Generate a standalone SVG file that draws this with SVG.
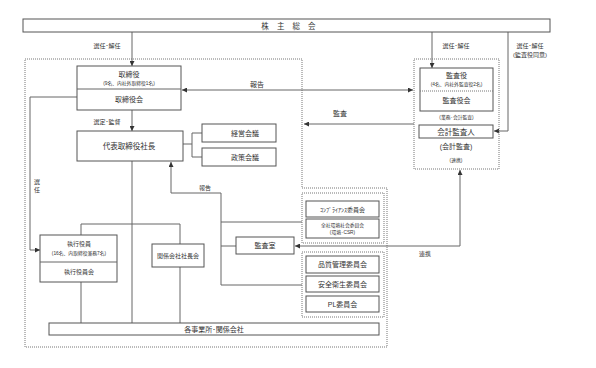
<svg xmlns="http://www.w3.org/2000/svg" width="596" height="368" viewBox="0 0 596 368">
<style>
text{font-family:"Liberation Sans","Noto Sans CJK JP",sans-serif;fill:#333;text-anchor:middle}
.box{fill:#fff;stroke:#555;stroke-width:1}
.grp{fill:none;stroke:#777;stroke-width:1;stroke-dasharray:1 1}
.ln{fill:none;stroke:#666;stroke-width:1}
.t7{font-size:7px}
.t75{font-size:7.5px}
.t6{font-size:6px}
.t5{font-size:4.8px}
</style>
<defs>
<marker id="ah" viewBox="0 0 5 5" refX="5" refY="2.5" markerWidth="5" markerHeight="5" markerUnits="userSpaceOnUse" orient="auto-start-reverse">
<path d="M0,0 L5,2.5 L0,5 z" fill="#333"/>
</marker>
</defs>
<rect width="596" height="368" fill="#fff"/>

<g id="outer-boundary">
<path class="grp" d="M25,59 H302 V188 H387 V347 H25 Z"/>
</g>

<g id="connectors">
<path class="ln" d="M132,32 V66" marker-end="url(#ah)"/>
<path class="ln" d="M432,32 V68" marker-end="url(#ah)"/>
<path class="ln" d="M508,32 V131 H494" marker-end="url(#ah)"/>
<path class="ln" d="M182,90 H413" marker-start="url(#ah)" marker-end="url(#ah)"/>
<path class="ln" d="M414,124 H304" marker-end="url(#ah)"/>
<path class="ln" d="M132,110 V131" marker-end="url(#ah)"/>
<path class="ln" d="M183,144 H192 M192,133 V157 M192,133 H202 M192,157 H202"/>
<path class="ln" d="M171,193 V162" marker-end="url(#ah)"/>
<path class="ln" d="M171,193 H221 V285 H302 M221,222 H302 M221,246 H236"/>
<path class="ln" d="M77,97 H30 V250 H40" marker-end="url(#ah)"/>
<path class="ln" d="M132,161 V323 M81,224 H180 M81,224 V235 M180,224 V244 M81,282 V323 M180,267 V323"/>
<path class="ln" d="M295,246 H460 V170" marker-start="url(#ah)" marker-end="url(#ah)"/>
<text class="t6" x="107" y="48">選任･解任</text>
<text class="t6" x="456" y="48">選任･解任</text>
<text class="t6" x="530" y="48">選任･解任</text>
<text class="t6" x="530" y="57">(監査役同意)</text>
<text class="t7" x="257" y="87">報告</text>
<text class="t7" x="340" y="116">監査</text>
<text class="t6" x="107" y="124">選定･監督</text>
<text class="t6" x="205" y="190">報告</text>
<text class="t6"><tspan x="37" y="184">選</tspan><tspan x="37" y="192">任</tspan></text>
<text class="t6" x="425" y="256">連携</text>
</g>

<g id="shareholders">
<rect class="box" x="23" y="19" width="527" height="13"/>
<text class="t75" x="290" y="28.5" letter-spacing="3">株 主 総 会</text>
</g>

<g id="board">
<rect class="box" x="77" y="66" width="104" height="44"/>
<line class="ln" x1="77" y1="89" x2="181" y2="89" stroke="#888"/>
<text class="t7" x="129" y="77">取締役</text>
<text class="t5" x="129" y="85">(9名、内社外取締役1名)</text>
<text class="t7" x="129" y="102">取締役会</text>
</g>

<g id="president">
<rect class="box" x="77" y="131" width="106" height="30"/>
<text class="t75" x="129" y="149">代表取締役社長</text>
</g>

<g id="management-meeting">
<rect class="box" x="202" y="124" width="74" height="18"/>
<text class="t7" x="245" y="135.5">経営会議</text>
</g>

<g id="policy-meeting">
<rect class="box" x="202" y="148" width="74" height="18"/>
<text class="t7" x="245" y="159.5">政策会議</text>
</g>

<g id="executive-officers">
<rect class="box" x="40" y="235" width="77" height="47"/>
<line class="ln" x1="40" y1="262" x2="117" y2="262"/>
<text class="t6" x="79" y="246">執行役員</text>
<text class="t5" x="79" y="255">(16名、内取締役兼務7名)</text>
<text class="t6" x="79" y="274">執行役員会</text>
</g>

<g id="affiliates-presidents">
<rect class="box" x="152" y="244" width="52" height="23"/>
<text class="t6" x="178" y="258">関係会社社長会</text>
</g>

<g id="audit-office">
<rect class="box" x="236" y="237" width="58" height="17"/>
<text class="t7" x="265" y="248">監査室</text>
</g>

<g id="compliance-group">
<rect class="grp" x="302" y="193" width="82" height="50"/>
<rect class="box" x="306" y="201" width="73" height="16"/>
<text class="t6" x="342.5" y="211.5">ｺﾝﾌﾟﾗｲｱﾝｽ委員会</text>
<rect class="box" x="306" y="219" width="73" height="19"/>
<text class="t5" x="342.5" y="227">全社環境社会委員会</text>
<text class="t5" x="342.5" y="234">(環境･CSR)</text>
</g>

<g id="quality-group">
<rect class="grp" x="302" y="252" width="82" height="65"/>
<rect class="box" x="306" y="256" width="73" height="17"/>
<text class="t7" x="342.5" y="267">品質管理委員会</text>
<rect class="box" x="306" y="276" width="73" height="16"/>
<text class="t7" x="342.5" y="286.5">安全衛生委員会</text>
<rect class="box" x="306" y="296" width="73" height="16"/>
<text class="t7" x="342.5" y="306.5">PL委員会</text>
</g>

<g id="offices">
<rect class="box" x="49" y="323" width="330" height="12"/>
<text class="t7" x="214" y="331.5">各事業所･関係会社</text>
</g>

<g id="audit-area">
<rect class="grp" x="414" y="59" width="85" height="110"/>
<rect class="box" x="420" y="68" width="73" height="43"/>
<line x1="420" y1="91" x2="493" y2="91" stroke="#777" stroke-width="1" stroke-dasharray="1 1"/>
<text class="t7" x="456.5" y="78">監査役</text>
<text class="t5" x="456.5" y="86">(4名、内社外監査役2名)</text>
<text class="t7" x="456.5" y="103">監査役会</text>
<text class="t5" x="456.5" y="119">(業務･会計監査)</text>
<rect class="box" x="419" y="125" width="74" height="13"/>
<text class="t75" x="456" y="134.5">会計監査人</text>
<text class="t7" x="456" y="149">(会計監査)</text>
<text class="t5" x="456" y="162">(連携)</text>
</g>
</svg>
